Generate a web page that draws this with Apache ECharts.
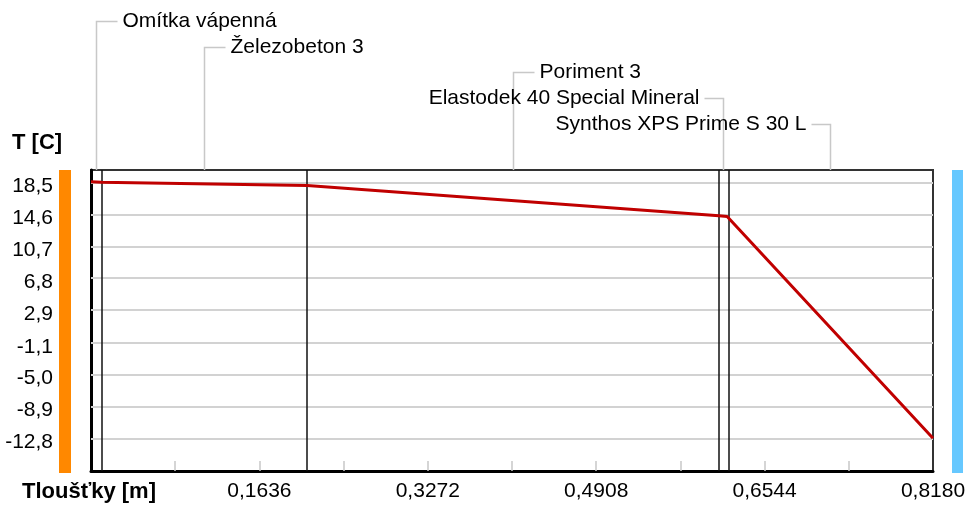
<!DOCTYPE html>
<html>
<head>
<meta charset="utf-8">
<script src="https://cdn.jsdelivr.net/npm/echarts@6/dist/echarts.min.js"></script>
<style>
html, body { margin: 0; padding: 0; background: #fff; }
#main { width: 969px; height: 507px; }
</style>
</head>
<body>
<div id="main"></div>
<script>
// hranice vrstev [m] a teplota na nich [C]
var thickness = [0, 0.01, 0.21, 0.61, 0.618, 0.818];
var temperature = [18.6, 18.56, 18.14, 14.45, 14.36, -12.8];
var layerNames = ['Omítka vápenná', 'Železobeton 3', 'Poriment 3', 'Elastodek 40 Special Mineral', 'Synthos XPS Prime S 30 L'];
// popisky os
var yTicks = [18.5, 14.6, 10.7, 6.8, 2.9, -1.1, -5.0, -8.9, -12.8];
var xLabels = [0.1636, 0.3272, 0.4908, 0.6544, 0.8180];
var xTicks = [0.0818, 0.1636, 0.2454, 0.3272, 0.4090, 0.4908, 0.5726, 0.6544, 0.7362];

var font = '"Liberation Sans", Arial, sans-serif';
var gridTop = 170;

var lineData = thickness.map(function(t, i) {
	return [t, temperature[i]];
});

// mrizka + hranice vrstev
var markData = [];
yTicks.forEach(function(v) {
	markData.push({ yAxis: v, lineStyle: { color: '#d2d2d2', width: 2, type: 'solid' } });
});
thickness.slice(1, -1).forEach(function(t) {
	markData.push({ xAxis: t, lineStyle: { color: '#111', width: 1.5, type: 'solid' } });
});

var myChart = echarts.init(document.getElementById('main'));
var option = {
	backgroundColor: '#fff',
	animation: false,
	grid: {
		left: 91,
		right: 36,
		top: gridTop,
		bottom: 36,
		show: true,
		borderColor: '#333',
		borderWidth: 2
	},
	xAxis: {
		type: 'value',
		min: 0,
		max: 0.818,
		splitLine: { show: false },
		axisLine: { show: true, onZero: false, lineStyle: { color: '#000', width: 3 } },
		axisTick: {
			show: true,
			inside: true,
			length: 10,
			customValues: xTicks,
			lineStyle: { color: '#c8c8c8', width: 1.5 }
		},
		axisLabel: {
			customValues: xLabels,
			margin: 10,
			color: '#000',
			fontFamily: font,
			fontSize: 21,
			formatter: function(v) {
				return v.toFixed(4).replace('.', ',');
			}
		}
	},
	yAxis: {
		type: 'value',
		min: -16.8,
		max: 20.05,
		splitLine: { show: false },
		axisLine: { show: true, onZero: false, lineStyle: { color: '#000', width: 3 } },
		axisTick: { show: false },
		axisLabel: {
			customValues: yTicks,
			margin: 38,
			color: '#000',
			fontFamily: font,
			fontSize: 21,
			verticalAlign: 'top',
			lineHeight: 8,
			formatter: function(v) {
				return v.toFixed(1).replace('.', ',');
			}
		}
	},
	series: [{
		type: 'line',
		data: lineData,
		showSymbol: false,
		symbol: 'none',
		z: 3,
		lineStyle: { color: '#c00000', width: 3 },
		markLine: {
			z: 1,
			silent: true,
			symbol: ['none', 'none'],
			label: { show: false },
			data: markData
		}
	}]
};
myChart.setOption(option);

// popisky vrstev nad grafem
var rowY = [21, 47, 72, 98, 124];
var graphics = [];
layerNames.forEach(function(name, i) {
	var mid = (thickness[i] + thickness[i + 1]) / 2;
	var px = Math.round(myChart.convertToPixel({ xAxisIndex: 0 }, mid)) + 0.5;
	var y = rowY[i] + 0.5;
	var toRight = i < 3;
	graphics.push({
		type: 'polyline',
		silent: true,
		shape: { points: [[px, gridTop], [px, y], [toRight ? px + 21 : px - 19, y]] },
		style: { stroke: '#c8c8c8', lineWidth: 1.5, fill: null }
	});
	graphics.push({
		type: 'text',
		x: toRight ? px + 26 : px - 24,
		y: y,
		style: {
			text: name,
			font: '21px ' + font,
			fill: '#000',
			align: toRight ? 'left' : 'right',
			verticalAlign: 'middle'
		}
	});
});
// vnitrni a vnejsi prostredi
graphics.push({ type: 'rect', silent: true, shape: { x: 59, y: 170, width: 12, height: 303 }, style: { fill: '#ff8800' } });
graphics.push({ type: 'rect', silent: true, shape: { x: 952, y: 170, width: 11, height: 303 }, style: { fill: '#66c8ff' } });
// nazvy os
graphics.push({ type: 'text', x: 12, y: 143, style: { text: 'T [C]', font: 'bold 22px ' + font, fill: '#000', verticalAlign: 'middle' } });
graphics.push({ type: 'text', x: 22, y: 492, style: { text: 'Tloušťky [m]', font: 'bold 22px ' + font, fill: '#000', verticalAlign: 'middle' } });

myChart.setOption({ graphic: graphics });
</script>
</body>
</html>
